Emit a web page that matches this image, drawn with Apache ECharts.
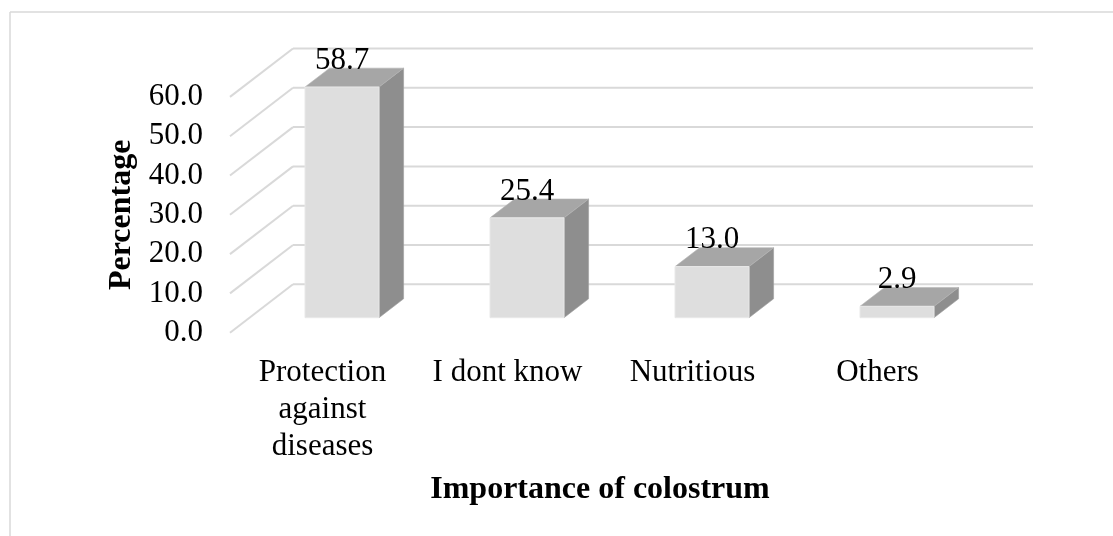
<!DOCTYPE html>
<html>
<head>
<meta charset="utf-8">
<script src="https://cdn.jsdelivr.net/npm/echarts@6/dist/echarts.min.js"></script>
<style>
html,body{margin:0;padding:0;background:#fff;}
#chart{width:1113px;height:536px;}
</style>
</head>
<body>
<div id="chart"></div>
<script>
var categories = ['Protection\nagainst\ndiseases', 'I dont know', 'Nutritious', 'Others'];
var percentages = [58.7, 25.4, 13.0, 2.9];
var yTicks = [0, 10, 20, 30, 40, 50, 60];
var xTitle = 'Importance of colostrum';
var yTitle = 'Percentage';

var FONT = '"Liberation Serif", "Times New Roman", serif';
var DEPTH_X = 63, DEPTH_Y = -48.4;      // back wall offset
var BAR_F1 = 0.31, BAR_F2 = 0.70;       // bar depth fraction
var BAR_W = 0.4;                        // bar width relative to band

var chart = echarts.init(document.getElementById('chart'), null, {renderer: 'canvas'});

var option = {
  animation: false,
  backgroundColor: '#ffffff',
  grid: {left: 230, right: 143, top: 96.9, bottom: 203.3, containLabel: false},
  xAxis: {
    type: 'category',
    data: categories,
    axisLine: {show: false},
    axisTick: {show: false},
    splitLine: {show: false},
    axisLabel: {
      interval: 0, margin: 22, color: '#000', fontFamily: FONT, fontSize: 31, lineHeight: 37
    },
    name: xTitle,
    nameLocation: 'middle',
    nameGap: 141,
    nameTextStyle: {fontFamily: FONT, fontSize: 32, fontWeight: 'bold', color: '#000'}
  },
  yAxis: {
    type: 'value',
    min: yTicks[0],
    max: yTicks[yTicks.length - 1],
    interval: yTicks[1] - yTicks[0],
    axisLine: {show: false},
    axisTick: {show: false},
    splitLine: {show: false},
    axisLabel: {
      margin: 27, color: '#000', fontFamily: FONT, fontSize: 31, padding: [9, 0, 0, 0],
      formatter: function (v) { return v.toFixed(1); }
    },
    name: yTitle,
    nameLocation: 'middle',
    nameRotate: 90,
    nameGap: 89.5,
    nameTextStyle: {fontFamily: FONT, fontSize: 32, fontWeight: 'bold', color: '#000'}
  },
  graphic: [
    {type: 'line', shape: {x1: 10, y1: 12, x2: 1113, y2: 12}, style: {stroke: '#d9d9d9', lineWidth: 1.5}, silent: true},
    {type: 'line', shape: {x1: 10, y1: 12, x2: 10, y2: 536}, style: {stroke: '#d9d9d9', lineWidth: 1.5}, silent: true}
  ],
  series: [
    {
      type: 'custom',
      name: 'grid3d',
      silent: true,
      z: 1,
      data: yTicks.map(function (t) { return [0, t]; }),
      renderItem: function (params, api) {
        var cs = params.coordSys;
        var y = api.coord([0, api.value(1)])[1];
        var x0 = cs.x, x1 = cs.x + cs.width;
        return {
          type: 'group',
          children: [
            {type: 'line', shape: {x1: x0, y1: y, x2: x0 + DEPTH_X, y2: y + DEPTH_Y},
             style: {stroke: '#d9d9d9', lineWidth: 2}},
            {type: 'line', shape: {x1: x0 + DEPTH_X, y1: y + DEPTH_Y, x2: x1 + DEPTH_X, y2: y + DEPTH_Y},
             style: {stroke: '#d9d9d9', lineWidth: 2}}
          ]
        };
      }
    },
    {
      type: 'custom',
      name: 'Percentage',
      z: 5,
      data: percentages.map(function (v, i) { return [i, v]; }),
      renderItem: function (params, api) {
        var i = api.value(0), v = api.value(1);
        var base = api.coord([i, 0]);
        var top = api.coord([i, v]);
        var bw = api.size([1, 0])[0];
        var w = bw * BAR_W;
        var fx = base[0] - w / 2 + BAR_F1 * DEPTH_X;
        var fyB = base[1] + BAR_F1 * DEPTH_Y;
        var fyT = top[1] + BAR_F1 * DEPTH_Y;
        var dx = (BAR_F2 - BAR_F1) * DEPTH_X, dy = (BAR_F2 - BAR_F1) * DEPTH_Y;
        var xr = fx + w;
        return {
          type: 'group',
          children: [
            {type: 'polygon', shape: {points: [[xr, fyT], [xr + dx, fyT + dy], [xr + dx, fyB + dy], [xr, fyB]]},
             style: {fill: '#8e8e8e', stroke: '#a0a0a0', lineWidth: 0.6}},
            {type: 'polygon', shape: {points: [[fx, fyT], [xr, fyT], [xr + dx, fyT + dy], [fx + dx, fyT + dy]]},
             style: {fill: '#a6a6a6', stroke: '#b4b4b4', lineWidth: 0.6}},
            {type: 'rect', shape: {x: fx, y: fyT, width: w, height: fyB - fyT},
             style: {fill: '#dedede', stroke: '#e8e8e8', lineWidth: 1}},
            {type: 'text', x: fx + w / 2, y: fyT + dy + 8,
             style: {text: v.toFixed(1), fill: '#000', font: '31px ' + FONT, align: 'center', verticalAlign: 'bottom'}}
          ]
        };
      }
    }
  ]
};
chart.setOption(option);
</script>
</body>
</html>
